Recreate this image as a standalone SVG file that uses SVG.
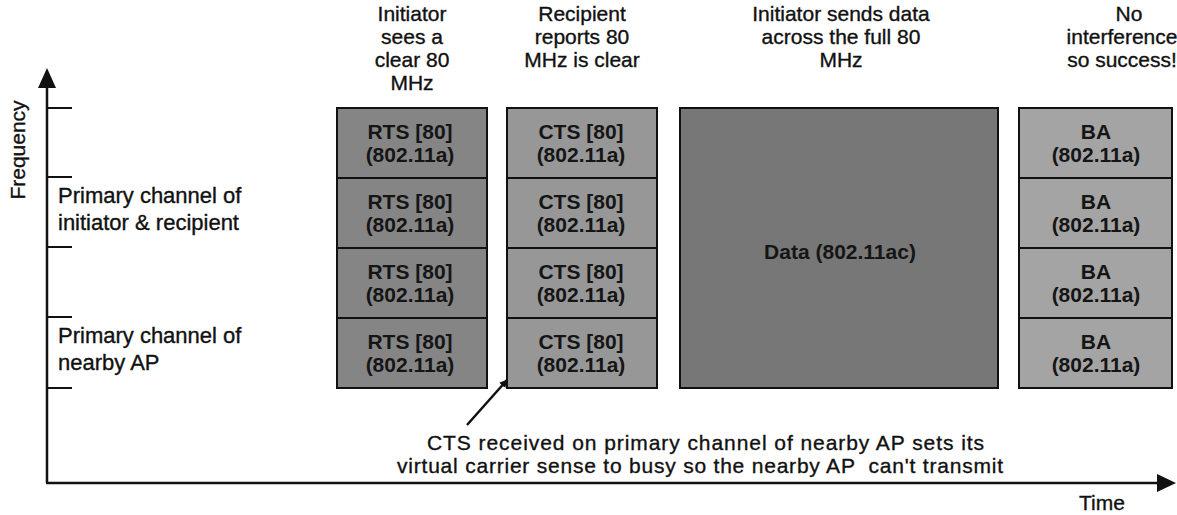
<svg xmlns="http://www.w3.org/2000/svg" width="1177" height="515" viewBox="0 0 1177 515">
  <style>
    text { font-family: "Liberation Sans", Arial, sans-serif; fill: #111; }
    .reg { stroke: #111; stroke-width: 0.35; }
    .lbl { font-size: 22px; }
    .hdr { font-size: 21px; text-anchor: middle; }
    .cell-t { font-size: 21px; font-weight: bold; text-anchor: middle; fill: #151515; }
    .cap { font-size: 21px; }
    .axis-t { font-size: 21px; }
    .rts { fill: #858585; stroke: #111; stroke-width: 2; }
    .cts { fill: #979797; stroke: #111; stroke-width: 2; }
    .dat { fill: #777777; stroke: #111; stroke-width: 2; }
    .ba  { fill: #a4a4a4; stroke: #111; stroke-width: 2; }
    .axis { stroke: #111; stroke-width: 2.5; fill: none; }
    .tick { stroke: #111; stroke-width: 2; }
    .ptr { stroke: #111; stroke-width: 2.5; fill: none; }
  </style>
  <defs>
    <marker id="head" viewBox="0 0 10 10" refX="9" refY="5" markerWidth="8" markerHeight="8" markerUnits="userSpaceOnUse" orient="auto">
      <path d="M0,0 L10,5 L0,10 z" fill="#111"/>
    </marker>
  </defs>
  <rect width="1177" height="515" fill="#ffffff"/>

  <!-- frequency / time axes -->
  <g id="axes">
    <line class="axis" x1="47" y1="483" x2="47" y2="84"/>
    <path d="M47,68 L56,88 L38,88 z" fill="#111"/>
    <line class="axis" x1="46" y1="483" x2="1160" y2="483"/>
    <path d="M1176,483 L1157,474 L1157,492 z" fill="#111"/>
    <line class="tick" x1="47" y1="108" x2="72" y2="108"/>
    <line class="tick" x1="47" y1="177" x2="72" y2="177"/>
    <line class="tick" x1="47" y1="247" x2="72" y2="247"/>
    <line class="tick" x1="47" y1="317" x2="72" y2="317"/>
    <line class="tick" x1="47" y1="388" x2="72" y2="388"/>
    <text class="axis-t reg" transform="translate(25,150) rotate(-90)" text-anchor="middle">Frequency</text>
    <text class="axis-t reg" x="1079" y="510" font-size="23">Time</text>
  </g>

  <!-- channel labels -->
  <g id="label-primary-initiator" class="reg">
    <text class="lbl" x="58" y="203">Primary channel of</text>
    <text class="lbl" x="58" y="230">initiator &amp; recipient</text>
  </g>
  <g id="label-primary-nearby" class="reg">
    <text class="lbl" x="58" y="343">Primary channel of</text>
    <text class="lbl" x="58" y="370">nearby AP</text>
  </g>

  <!-- column headings -->
  <g id="hdr-rts" class="reg">
    <text class="hdr" x="412" y="21">Initiator</text>
    <text class="hdr" x="412" y="44">sees a</text>
    <text class="hdr" x="412" y="67">clear 80</text>
    <text class="hdr" x="412" y="90">MHz</text>
  </g>
  <g id="hdr-cts" class="reg">
    <text class="hdr" x="582" y="21">Recipient</text>
    <text class="hdr" x="582" y="44">reports 80</text>
    <text class="hdr" x="582" y="67">MHz is clear</text>
  </g>
  <g id="hdr-data" class="reg">
    <text class="hdr" x="841" y="21">Initiator sends data</text>
    <text class="hdr" x="841" y="44">across the full 80</text>
    <text class="hdr" x="841" y="67">MHz</text>
  </g>
  <g id="hdr-ba" class="reg">
    <text class="hdr" x="1129" y="21">No</text>
    <text class="hdr" x="1122" y="44" font-size="18">interference</text>
    <text class="hdr" x="1122" y="67" font-size="18">so success!</text>
  </g>

  <!-- RTS column -->
  <g id="rts-1">
    <rect class="rts" x="337" y="108" width="150" height="70"/>
    <text class="cell-t" x="410" y="139">RTS [80]</text>
    <text class="cell-t" x="410" y="162">(802.11a)</text>
  </g>
  <g id="rts-2">
    <rect class="rts" x="337" y="178" width="150" height="70"/>
    <text class="cell-t" x="410" y="209">RTS [80]</text>
    <text class="cell-t" x="410" y="232">(802.11a)</text>
  </g>
  <g id="rts-3">
    <rect class="rts" x="337" y="248" width="150" height="70"/>
    <text class="cell-t" x="410" y="279">RTS [80]</text>
    <text class="cell-t" x="410" y="302">(802.11a)</text>
  </g>
  <g id="rts-4">
    <rect class="rts" x="337" y="318" width="150" height="70"/>
    <text class="cell-t" x="410" y="349">RTS [80]</text>
    <text class="cell-t" x="410" y="372">(802.11a)</text>
  </g>

  <!-- CTS column -->
  <g id="cts-1">
    <rect class="cts" x="507" y="108" width="150" height="70"/>
    <text class="cell-t" x="581" y="139">CTS [80]</text>
    <text class="cell-t" x="581" y="162">(802.11a)</text>
  </g>
  <g id="cts-2">
    <rect class="cts" x="507" y="178" width="150" height="70"/>
    <text class="cell-t" x="581" y="209">CTS [80]</text>
    <text class="cell-t" x="581" y="232">(802.11a)</text>
  </g>
  <g id="cts-3">
    <rect class="cts" x="507" y="248" width="150" height="70"/>
    <text class="cell-t" x="581" y="279">CTS [80]</text>
    <text class="cell-t" x="581" y="302">(802.11a)</text>
  </g>
  <g id="cts-4">
    <rect class="cts" x="507" y="318" width="150" height="70"/>
    <text class="cell-t" x="581" y="349">CTS [80]</text>
    <text class="cell-t" x="581" y="372">(802.11a)</text>
  </g>

  <!-- data burst across the full 80 MHz -->
  <g id="data">
    <rect class="dat" x="680" y="108" width="318" height="280"/>
    <text class="cell-t" x="840" y="259">Data (802.11ac)</text>
  </g>

  <!-- block ack column -->
  <g id="ba-1">
    <rect class="ba" x="1019" y="108" width="153" height="70"/>
    <text class="cell-t" x="1096" y="139">BA</text>
    <text class="cell-t" x="1096" y="162">(802.11a)</text>
  </g>
  <g id="ba-2">
    <rect class="ba" x="1019" y="178" width="153" height="70"/>
    <text class="cell-t" x="1096" y="209">BA</text>
    <text class="cell-t" x="1096" y="232">(802.11a)</text>
  </g>
  <g id="ba-3">
    <rect class="ba" x="1019" y="248" width="153" height="70"/>
    <text class="cell-t" x="1096" y="279">BA</text>
    <text class="cell-t" x="1096" y="302">(802.11a)</text>
  </g>
  <g id="ba-4">
    <rect class="ba" x="1019" y="318" width="153" height="70"/>
    <text class="cell-t" x="1096" y="349">BA</text>
    <text class="cell-t" x="1096" y="372">(802.11a)</text>
  </g>

  <!-- note pointing at the CTS on the nearby AP's primary channel -->
  <g id="connectors">
    <line class="ptr" x1="467" y1="425" x2="507" y2="380" marker-end="url(#head)"/>
  </g>
  <g id="note-cts" class="reg">
    <text class="cap" x="427" y="450" textLength="557" lengthAdjust="spacing">CTS received on primary channel of nearby AP sets its</text>
    <text class="cap" x="397" y="473" textLength="606" lengthAdjust="spacing" xml:space="preserve">virtual carrier sense to busy so the nearby AP  can't transmit</text>
  </g>
</svg>
